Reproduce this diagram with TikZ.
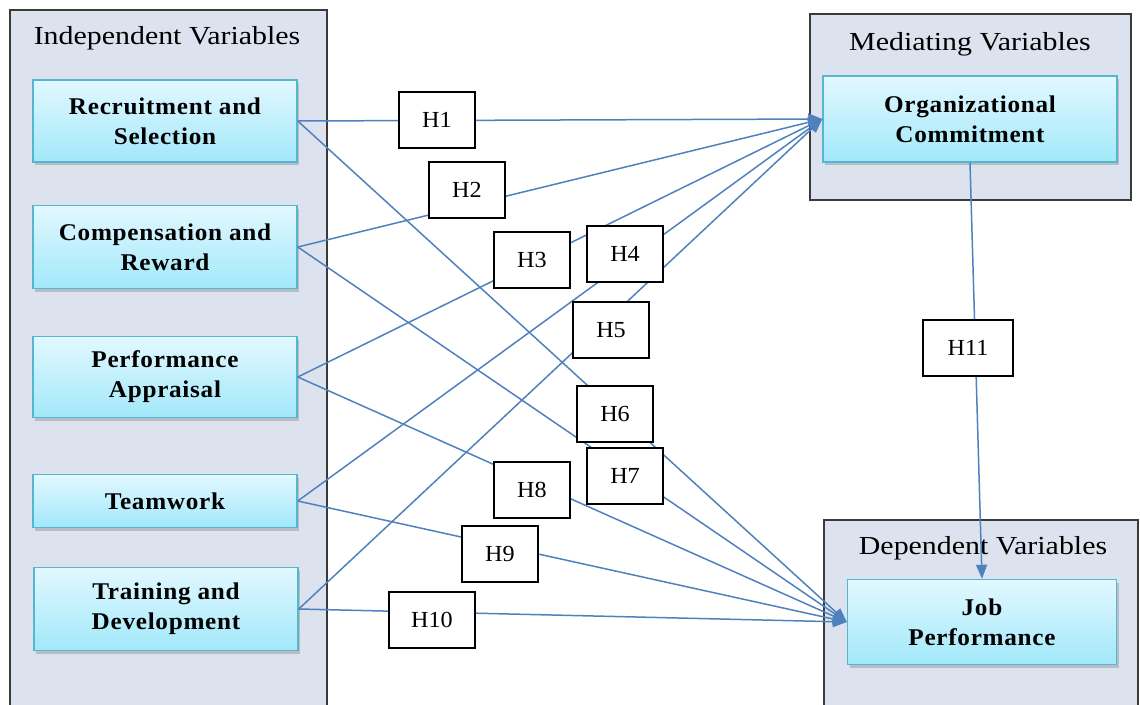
\documentclass[tikz,border=0pt]{standalone}
\usepackage{fontspec}
\setmainfont{Liberation Serif}
\newfontfamily\titlefont[FakeStretch=1.15]{Liberation Serif}
\newfontfamily\varfont[FakeStretch=1.05,LetterSpace=3]{Liberation Serif}
\newfontfamily\hfont[FakeStretch=1.05]{Liberation Serif}
\usetikzlibrary{arrows.meta,shadows}
\definecolor{panelfill}{HTML}{DCE3EF}
\definecolor{paneledge}{HTML}{3A3A3A}
\definecolor{linkblue}{HTML}{4F81BD}
\definecolor{vtop}{HTML}{E2F8FF}
\definecolor{vbot}{HTML}{A2E8FA}
\definecolor{vedge}{HTML}{55B6D0}
\begin{document}
\begin{tikzpicture}[x=1pt,y=-1pt,
  panelbox/.style={draw=paneledge, line width=1.8pt, fill=panelfill},
  varbox/.style={draw=vedge, line width=1.5pt, top color=vtop, bottom color=vbot,
    align=center, inner sep=0pt, font=\varfont\fontsize{24}{30}\selectfont\bfseries,
    drop shadow={opacity=0.3, shadow xshift=2pt, shadow yshift=-3pt, fill=black!60}},
  hbox/.style={draw=black, line width=1.5pt, fill=white, minimum width=76pt,
    minimum height=56pt, inner sep=0pt, font=\hfont\fontsize{23}{26}\selectfont},
  arrowline/.style={draw=linkblue, line width=1.5pt, -{Triangle[length=14pt,width=11pt]}},
  paneltitle/.style={font=\titlefont\fontsize{26}{30}\selectfont}]
\useasboundingbox (0,0) rectangle (1140,704);
\clip (0,0) rectangle (1140,704);
% panels
\draw[panelbox] (10,10) rectangle (327,715);
\draw[panelbox] (810,14) rectangle (1131,200);
\draw[panelbox] (824,520) rectangle (1138,715);
\node[paneltitle] (tind) at (167,38) {Independent Variables};
\node[paneltitle] (tmed) at (970,44) {Mediating Variables};
\node[paneltitle] (tdep) at (983,548) {Dependent Variables};
% variable nodes
\node[varbox, minimum width=264pt, minimum height=82pt] (rs) at (165,121) {Recruitment and\\Selection};
\node[varbox, minimum width=264pt, minimum height=83pt] (cr) at (165,247) {Compensation and\\Reward};
\node[varbox, minimum width=264pt, minimum height=81pt] (pa) at (165,377) {Performance\\Appraisal};
\node[varbox, minimum width=264pt, minimum height=53pt] (tw) at (165,501) {Teamwork};
\node[varbox, minimum width=264pt, minimum height=83pt] (td) at (166,609) {Training and\\Development};
\node[varbox, minimum width=294pt, minimum height=86pt] (oc) at (970,119) {Organizational\\Commitment};
\node[varbox, minimum width=269pt, minimum height=85pt] (jp) at (982,622) {Job\\Performance};
% connectors
\draw[arrowline] (rs.east) -- (oc.west);
\draw[arrowline] (cr.east) -- (oc.west);
\draw[arrowline] (pa.east) -- (oc.west);
\draw[arrowline] (tw.east) -- (oc.west);
\draw[arrowline] (td.east) -- (oc.west);
\draw[arrowline] (rs.east) -- (jp.west);
\draw[arrowline] (cr.east) -- (jp.west);
\draw[arrowline] (pa.east) -- (jp.west);
\draw[arrowline] (tw.east) -- (jp.west);
\draw[arrowline] (td.east) -- (jp.west);
\draw[arrowline] (oc.south) -- (jp.north);
% hypothesis labels
\node[hbox] (h1) at (437,120) {H1};
\node[hbox] (h2) at (467,190) {H2};
\node[hbox] (h3) at (532,260) {H3};
\node[hbox] (h4) at (625,254) {H4};
\node[hbox] (h5) at (611,330) {H5};
\node[hbox] (h6) at (615,414) {H6};
\node[hbox] (h7) at (625,476) {H7};
\node[hbox] (h8) at (532,490) {H8};
\node[hbox] (h9) at (500,554) {H9};
\node[hbox, minimum width=86pt] (h10) at (432,620) {H10};
\node[hbox, minimum width=90pt] (h11) at (968,348) {H11};
\end{tikzpicture}
\end{document}
